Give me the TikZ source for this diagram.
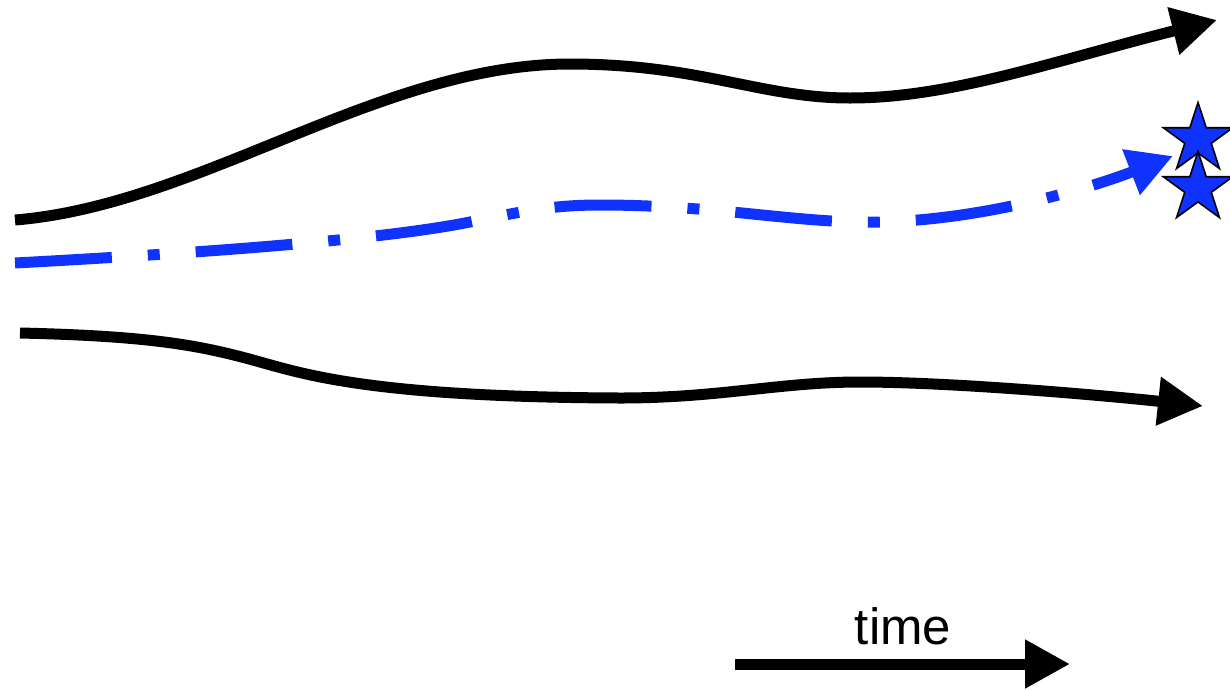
\documentclass[tikz,border=0pt]{standalone}
\usepackage{fontspec}
\setmainfont{Liberation Sans}
\usetikzlibrary{arrows.meta,shapes.geometric}
\definecolor{trackblue}{RGB}{16,50,255}
\tikzset{
  track/.style={line width=11pt, -{Triangle[length=45pt,width=46pt]}},
  dashdot/.style={dash pattern=on 97pt off 36pt on 12pt off 36pt},
  marker/.style={star, star points=5, star point ratio=2.618, minimum size=73pt,
    inner sep=0pt, fill=trackblue, draw=black, line width=1.6pt}
}
\begin{document}
\begin{tikzpicture}[x=1pt,y=-1pt]
\useasboundingbox (0,0) rectangle (1230,689);

% upper bounding trajectory
\draw[track] (15,220) .. controls (200,205) and (380,64) .. (570,64)
  .. controls (700,64) and (760,98) .. (850,98)
  .. controls (950,98) and (1050,62) .. (1217,20);

% central (mean) trajectory
\draw[track, trackblue, dashdot] (15,263) .. controls (200,253) and (380,240) .. (470,222)
  .. controls (520,212) and (550,205) .. (600,205)
  .. controls (720,205) and (800,224) .. (880,222)
  .. controls (980,220) and (1085,190) .. (1173,156);

% lower bounding trajectory
\draw[track] (20,333) .. controls (150,336) and (200,345) .. (260,362)
  .. controls (310,376) and (380,397) .. (620,398)
  .. controls (720,398) and (780,382) .. (860,382)
  .. controls (950,382) and (1100,395) .. (1203,406);

% end markers
\node[marker] (s1) at (1198,139) {};
\node[marker] (s2) at (1198,188) {};

% time axis
\coordinate (t0) at (735,664);
\coordinate (t1) at (1070,664);
\draw[track] (t0) -- (t1);
\node[anchor=base, font=\fontsize{51}{60}\selectfont, inner sep=0pt] (tl) at (903,644) {time};
\end{tikzpicture}
\end{document}
